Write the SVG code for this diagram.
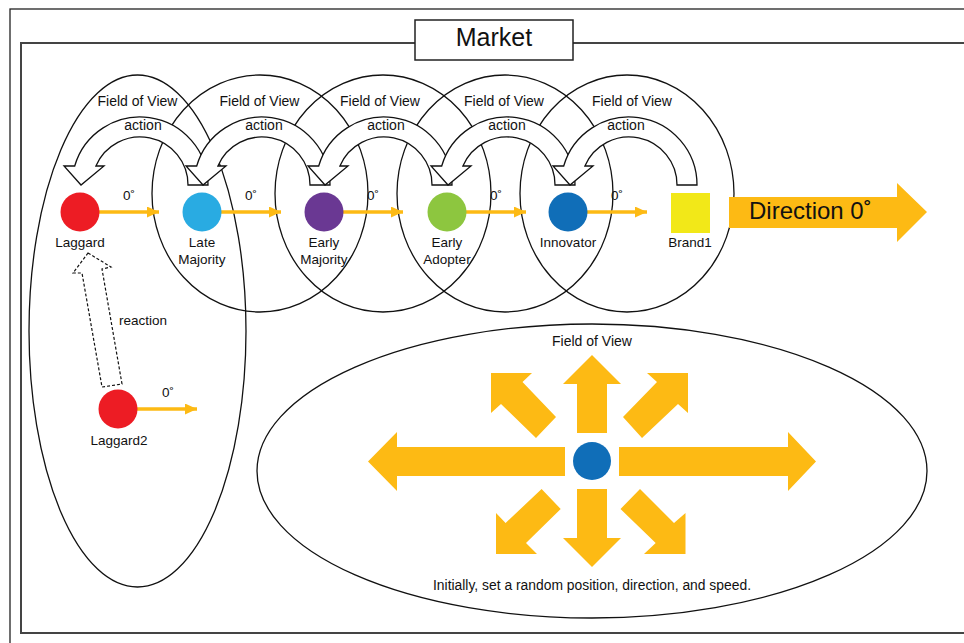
<svg xmlns="http://www.w3.org/2000/svg" width="964" height="643" viewBox="0 0 964 643">
<defs>
<style>
text{font-family:"Liberation Sans",Arial,sans-serif;fill:#111}
.lbl{font-size:13.5px;text-anchor:middle}
.deg{font-size:13.5px}
.fov{font-size:14px;text-anchor:middle}
.ell{fill:none;stroke:#111;stroke-width:1.3}
.act{fill:#fff;stroke:#111;stroke-width:1.3;stroke-linejoin:miter}
.or{fill:#FDBA14}
.ol{stroke:#FDBA14;stroke-width:3.5}
</style>
<marker id="ah" viewBox="0 0 12 11" refX="12" refY="5.5" markerWidth="12" markerHeight="11" markerUnits="userSpaceOnUse" orient="auto">
<path d="M0,0 L12,5.5 L0,11 Z" fill="#FDBA14"/>
</marker>
</defs>
<rect width="964" height="643" fill="#fff"/>
<g id="frame">
<rect x="10" y="9" width="980" height="660" fill="none" stroke="#222" stroke-width="1.3"/>
<rect x="21" y="43" width="970" height="590" fill="none" stroke="#444" stroke-width="2"/>
</g>
<g id="market">
<rect x="415" y="20" width="158" height="40" fill="#fff" stroke="#222" stroke-width="1.5"/>
<text x="494" y="46" font-size="25" text-anchor="middle">Market</text>
</g>
<g id="fields">
<ellipse class="ell" cx="137.5" cy="331" rx="108.5" ry="256"/>
<ellipse class="ell" cx="260" cy="193.5" rx="108" ry="118.5"/>
<ellipse class="ell" cx="383" cy="193.5" rx="108" ry="118.5"/>
<ellipse class="ell" cx="505" cy="193.5" rx="108" ry="118.5"/>
<ellipse class="ell" cx="627" cy="193.5" rx="107" ry="118.5"/>
<ellipse class="ell" cx="592" cy="471" rx="335" ry="147"/>
</g>
<g id="connectors">
<line class="ol" x1="99" y1="212" x2="159" y2="212" marker-end="url(#ah)"/>
<line class="ol" x1="221" y1="212" x2="281" y2="212" marker-end="url(#ah)"/>
<line class="ol" x1="343" y1="212" x2="403" y2="212" marker-end="url(#ah)"/>
<line class="ol" x1="466" y1="212" x2="526" y2="212" marker-end="url(#ah)"/>
<line class="ol" x1="587" y1="212" x2="647" y2="212" marker-end="url(#ah)"/>
<line class="ol" x1="137" y1="409" x2="197" y2="409" marker-end="url(#ah)"/>
<text class="deg" x="123" y="200">0˚</text>
<text class="deg" x="245" y="200">0˚</text>
<text class="deg" x="367" y="200">0˚</text>
<text class="deg" x="490" y="200">0˚</text>
<text class="deg" x="611" y="200">0˚</text>
<text class="deg" x="162" y="397">0˚</text>
<path class="act" d="M208,185 A68,68 0 0 0 74.7,166 L64,166 L81,185 L104,166 L95.9,166 A48,48 0 0 1 188,185 Z"/>
<path class="act" d="M330,185 A68,68 0 0 0 196.7,166 L186,166 L203,185 L226,166 L217.9,166 A48,48 0 0 1 310,185 Z"/>
<path class="act" d="M452,185 A68,68 0 0 0 318.7,166 L308,166 L325,185 L348,166 L339.9,166 A48,48 0 0 1 432,185 Z"/>
<path class="act" d="M575,185 A68,68 0 0 0 441.7,166 L431,166 L448,185 L471,166 L462.9,166 A48,48 0 0 1 555,185 Z"/>
<path class="act" d="M697,185 A68,68 0 0 0 563.7,166 L553,166 L570,185 L593,166 L584.9,166 A48,48 0 0 1 677,185 Z"/>
<polygon points="88,253 111,267 102,269 122,384 102,387 82,273 73,273" fill="#fff" stroke="#111" stroke-width="1.2" stroke-dasharray="3,2"/>
<text x="119" y="325" font-size="13.5">reaction</text>
<polygon class="or" points="729,197 897,197 897,183 927,212 897,242 897,228 729,228"/>
<text x="749" y="219" font-size="24">Direction 0˚</text>
</g>
<g id="fov-labels">
<text class="fov" x="137.5" y="106">Field of View</text>
<text class="fov" x="259.5" y="106">Field of View</text>
<text class="fov" x="380" y="106">Field of View</text>
<text class="fov" x="504" y="106">Field of View</text>
<text class="fov" x="632" y="106">Field of View</text>
<text class="fov" x="143" y="130">action</text>
<text class="fov" x="264" y="130">action</text>
<text class="fov" x="386" y="130">action</text>
<text class="fov" x="507" y="130">action</text>
<text class="fov" x="626" y="130">action</text>
</g>
<g id="laggard">
<circle cx="80" cy="212" r="19.5" fill="#ED1C24"/>
<text class="lbl" x="80" y="247">Laggard</text>
</g>
<g id="late-majority">
<circle cx="202" cy="212" r="19.5" fill="#29ABE2"/>
<text class="lbl" x="202" y="247">Late</text>
<text class="lbl" x="202" y="264">Majority</text>
</g>
<g id="early-majority">
<circle cx="324" cy="212" r="19.5" fill="#6A3893"/>
<text class="lbl" x="324" y="247">Early</text>
<text class="lbl" x="324" y="264">Majority</text>
</g>
<g id="early-adopter">
<circle cx="447" cy="212" r="19.5" fill="#8DC63F"/>
<text class="lbl" x="447" y="247">Early</text>
<text class="lbl" x="447" y="264">Adopter</text>
</g>
<g id="innovator">
<circle cx="568" cy="212" r="19.5" fill="#106EB8"/>
<text class="lbl" x="568" y="247">Innovator</text>
</g>
<g id="brand1">
<rect x="671" y="193" width="39" height="40" fill="#F2E818"/>
<text class="lbl" x="690" y="247">Brand1</text>
</g>
<g id="laggard2">
<circle cx="118" cy="409" r="19.5" fill="#ED1C24"/>
<text class="lbl" x="119" y="445">Laggard2</text>
</g>
<g id="random-agent">
<polygon class="or" points="619,447 788,447 788,432 816,461.5 788,491 788,476 619,476"/>
<polygon class="or" points="565,447 397,447 397,432 368,461.5 397,491 397,476 565,476"/>
<polygon class="or" points="577,433 577,384 563,384 592,355 621,384 607,384 607,433"/>
<polygon class="or" points="577,489 577,538 563,538 592,567 621,538 607,538 607,489"/>
<polygon class="or" points="491,373 532,373 522.5,382 556,417 536,438 501,404 491,413"/>
<polygon class="or" points="688,373 647,373 657,382 623,417 642,438 678,404 688,413"/>
<polygon class="or" points="496,554 496,513 505.6,523 541.6,489 560.7,509 526,543 537,554"/>
<polygon class="or" points="685.5,554 685.5,513 674,523 640,489 620.5,509 655.7,543 644,554"/>
<circle cx="592" cy="461" r="19" fill="#106EB8"/>
<text class="fov" x="592" y="345.5">Field of View</text>
<text class="fov" x="592" y="590" textLength="318" lengthAdjust="spacingAndGlyphs">Initially, set a random position, direction, and speed.</text>
</g>
</svg>
